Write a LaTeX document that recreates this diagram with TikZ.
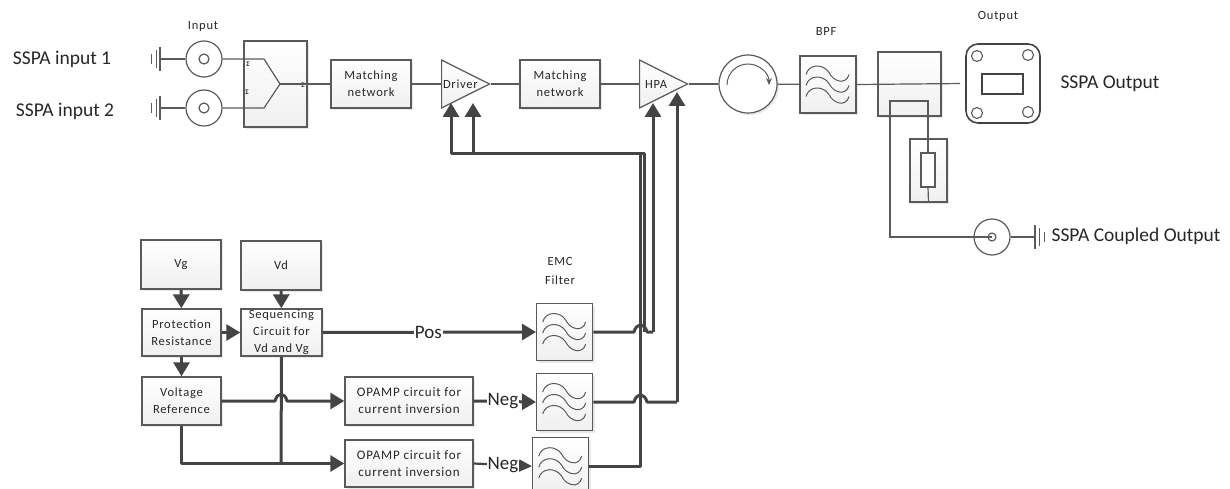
\documentclass[tikz,border=0pt]{standalone}
\usepackage{fontspec}
\usetikzlibrary{positioning, shapes.geometric, arrows.meta, shadows, calc}
\setmainfont{Carlito}
\newfontfamily\boxfont[LetterSpace=6]{Carlito}

\definecolor{linegray}{HTML}{5A5A5A}
\definecolor{busgray}{HTML}{444444}
\definecolor{textgray}{HTML}{262626}

\tikzset{
  block/.style={draw=linegray, line width=1.4pt, top color=white, bottom color=black!6,
    drop shadow={shadow xshift=2pt, shadow yshift=-2pt, opacity=.18},
    align=center, inner sep=0pt, text=textgray,
    font=\boxfont\fontsize{12.5}{17}\selectfont},
  filterbox/.style={block, minimum width=56pt, minimum height=57pt},
  coax/.style={circle, draw=linegray, line width=1.2pt, fill=white, minimum size=36pt, inner sep=0pt},
  amp/.style={isosceles triangle, isosceles triangle apex angle=53, draw=linegray, line width=1.2pt,
    top color=white, bottom color=black!6, minimum height=48pt, inner sep=0pt, anchor=lower side,
    text=textgray, font=\boxfont\fontsize{12.5}{14}\selectfont},
  sig/.style={draw=linegray, line width=1.2pt},
  busline/.style={draw=busgray, line width=3pt, line join=round},
  busarrow/.style={busline, -{Triangle[length=14pt,width=16pt]}},
  wave/.style={draw=linegray, line width=1pt},
  caption/.style={text=textgray, align=center, font=\boxfont\fontsize{12.5}{14}\selectfont},
  biglabel/.style={text=textgray, font=\fontsize{19.5}{22}\selectfont},
  portmark/.style={text=textgray, inner sep=0pt, font=\bfseries\fontsize{7}{8}\selectfont},
  hump/.style={to path={.. controls +(2,-9) and +(-2,-9) .. (\tikztotarget)}}
}

% three wavy lines of a filter
\newcommand{\filterwaves}[1]{%
  \foreach \dy in {-11,0,11} {
    \draw[wave, shift={(#1.center)}, yshift=\dy] (-22,1) .. controls (-19,-10) and (-5,-10) .. (1,-1)
      .. controls (5,8) and (18,12) .. (21,1);
  }}

\begin{document}
\begin{tikzpicture}[x=1pt, y=-1pt, >=Stealth]
  \useasboundingbox (0,0) rectangle (1230,489);

  % Input side
  \node[biglabel] (lin1) at (62,59) {SSPA input 1};
  \node[biglabel] (lin2) at (65,111) {SSPA input 2};
  \node[caption] (linput) at (203,26) {Input};
  \node[coax] (in1) at (204,59) {};
  \node[coax] (in2) at (204,108) {};
  \node[circle, sig, minimum size=10pt, inner sep=0pt] (in1c) at (in1.center) {};
  \node[circle, sig, minimum size=10pt, inner sep=0pt] (in2c) at (in2.center) {};
  \coordinate (gnd1) at (160,59);
  \coordinate (gnd2) at (160,108);
  \node[block, minimum width=63pt, minimum height=86pt] (split) at (275.5,84) {};
  \coordinate (splitA) at (264,59);
  \coordinate (splitB) at (264,108);
  \coordinate (splitC) at (280,84);
  \node[portmark] (pa) at (248,64) {Σ};
  \node[portmark] (pb) at (247,92) {Σ};
  \node[portmark] (pc) at (303,85) {Σ};

  % Amplifier chain
  \node[block, minimum width=80pt, minimum height=48pt] (match1) at (371,84) {Matching\\network};
  \node[amp] (driver) at (441,84) {Driver};
  \node[block, minimum width=80pt, minimum height=48pt] (match2) at (560,84) {Matching\\network};
  \node[amp] (hpa) at (639,84) {HPA};
  \node[coax, minimum size=58pt, drop shadow={shadow xshift=2pt, shadow yshift=-2pt, opacity=.18}] (circ) at (748,84) {};
  \node[caption] (lbpf) at (826,31) {BPF};
  \node[filterbox] (bpf) at (828,84.5) {};
  \node[block, minimum width=63pt, minimum height=64pt] (coupler) at (909.5,84) {};

  % Output side
  \node[caption] (loutput) at (998,16) {Output};
  \node[draw=busgray, line width=1.6pt, fill=white, rounded corners=12pt, minimum width=74pt, minimum height=79pt] (flange) at (1003,83.5) {};
  \node[draw=busgray, line width=1.2pt, minimum width=41pt, minimum height=20pt] (slot) at (1002.5,84) {};
  \foreach \hx/\hy [count=\hn] in {977/56, 1028/55, 977/113, 1028/112}
    \node[circle, draw=linegray, line width=1.1pt, minimum size=11pt, inner sep=0pt] (hole\hn) at (\hx,\hy) {};
  \node[biglabel] (lout) at (1110,84) {SSPA Output};
  \node[block, minimum width=37pt, minimum height=63pt] (load) at (928.5,170.5) {};
  \node[sig, fill=white, minimum width=14pt, minimum height=34pt, inner sep=0pt] (res) at (928,170) {};
  \node[coax] (cout) at (992,237) {};
  \node[circle, sig, minimum size=8pt, inner sep=0pt] (coutc) at (cout.center) {};
  \coordinate (gnd3) at (1035,237);
  \node[biglabel, anchor=west] (lcoup) at (1048,236) {SSPA Coupled Output};

  % Bias blocks
  \node[block, minimum width=80pt, minimum height=49pt] (vg) at (181,264.5) {Vg};
  \node[block, minimum width=80pt, minimum height=49pt] (vd) at (281,265.5) {Vd};
  \node[block, minimum width=79pt, minimum height=47pt] (prot) at (181.5,332.5) {Protection\\Resistance};
  \node[block, minimum width=81pt, minimum height=47pt] (seq) at (281.5,332.5) {Sequencing\\Circuit for\\Vd and Vg};
  \node[block, minimum width=79pt, minimum height=48pt] (vref) at (181.5,401) {Voltage\\Reference};
  \node[block, minimum width=128pt, minimum height=48pt, font=\boxfont\fontsize{13}{17}\selectfont] (opamp1) at (409,401) {OPAMP circuit for\\current inversion};
  \node[block, minimum width=128pt, minimum height=47pt, font=\boxfont\fontsize{13}{17}\selectfont] (opamp2) at (409,463.5) {OPAMP circuit for\\current inversion};
  \node[caption] (lemc) at (560,271) {EMC\\[5pt]Filter};
  \node[filterbox, anchor=west] (emc1) at (536,332) {};
  \node[filterbox, anchor=west] (emc2) at (536,402) {};
  \node[filterbox, anchor=north west] (emc3) at (532,437) {};
  \filterwaves{bpf}
  \filterwaves{emc1}
  \filterwaves{emc2}
  \filterwaves{emc3}

  % Bias targets on the amplifiers
  \coordinate (drvA) at (451,103);
  \coordinate (drvB) at (473,103);
  \coordinate (hpaA) at (653,103);
  \coordinate (hpaB) at (677,92);

  % Signal path
  \draw[sig] (in1) -- (gnd1);
  \draw[sig] (in2) -- (gnd2);
  \draw[sig] (in1) -- (splitA) -- (splitC);
  \draw[sig] (in2) -- (splitB) -- (splitC);
  \draw[sig] (splitC) -- (match1.west);
  \draw[sig] (match1) -- (driver.lower side);
  \draw[sig] (driver.apex) -- (match2);
  \draw[sig] (match2) -- (hpa.lower side);
  \draw[sig] (hpa.apex) -- (circ);
  \draw[sig] (circ) -- (bpf);
  \draw[sig, shorten >=5pt] (bpf.east) -- (flange.west);
  \draw[sig] (cout.east) -- (gnd3);
  \draw[sig] (res.south) -- (load.south);
  \draw[sig] (cout.center) -| (890,101) -- (928,101) -- (res.north);

  % Circulator arrow
  \draw[wave, -{Stealth[length=7pt,width=6pt]}] (circ.center) ++(-21,1) arc[start angle=180, end angle=360, radius=21];

  % Grounds
  \foreach \gn/\gs in {gnd1/-1, gnd2/-1, gnd3/1} {
    \draw[sig] ($(\gn)+(0,-12)$) -- ($(\gn)+(0,12)$);
    \draw[sig, line width=.9pt] ($(\gn)+(\gs*4,-9)$) -- ($(\gn)+(\gs*4,9)$);
    \draw[sig, line width=.8pt] ($(\gn)+(\gs*9,-5)$) -- ($(\gn)+(\gs*9,5)$);
  }

  % Bias edges
  \draw[busarrow] (vg) -- (prot);
  \draw[busarrow] (vd) -- (seq);
  \draw[busarrow] (prot) -- (seq);
  \draw[busarrow] (prot) -- (vref);
  \draw[busarrow] (seq.east) -- node[pos=.495, fill=white, inner sep=1pt, text=textgray, font=\fontsize{19}{20}\selectfont] (lpos) {Pos} (emc1.west);
  \draw[busline] (seq.south) -- (281,463);
  \draw[busarrow] (vref.east) -- (275,401) to[hump] (287,401) -- (opamp1.west);
  \draw[busarrow] (vref.south) |- (opamp2.west);
  \draw[busarrow] (opamp1.east) -- node[pos=.47, fill=white, inner sep=.5pt, text=textgray, font=\fontsize{19}{20}\selectfont] (lneg1) {Neg} (emc2.west);
  \draw[busline, line width=2.2pt, -{Triangle[length=13pt,width=12pt]}] (opamp2.east) -- node[pos=.5, fill=white, inner sep=.5pt, text=textgray, font=\fontsize{19}{20}\selectfont] (lneg2) {Neg} (emc3.west);

  % Filter outputs to the amplifiers
  \draw[busline] (emc3.east) -| (640,154) -- (451,154);
  \draw[busline] (emc1.east) -- (634,332) to[hump] (647,332) -- (653,332);
  \draw[busline] (644,332) -- (644,154) -- (640,154);
  \draw[busarrow] (653,332) -- (hpaA);
  \draw[busline] (emc2.east) -- (634,402) to[hump] (647,402) -- (677,402);
  \draw[busarrow] (677,402) -- (hpaB);
  \draw[busarrow] (451,154) -- (drvA);
  \draw[busarrow] (473,154) -- (drvB);
\end{tikzpicture}
\end{document}
